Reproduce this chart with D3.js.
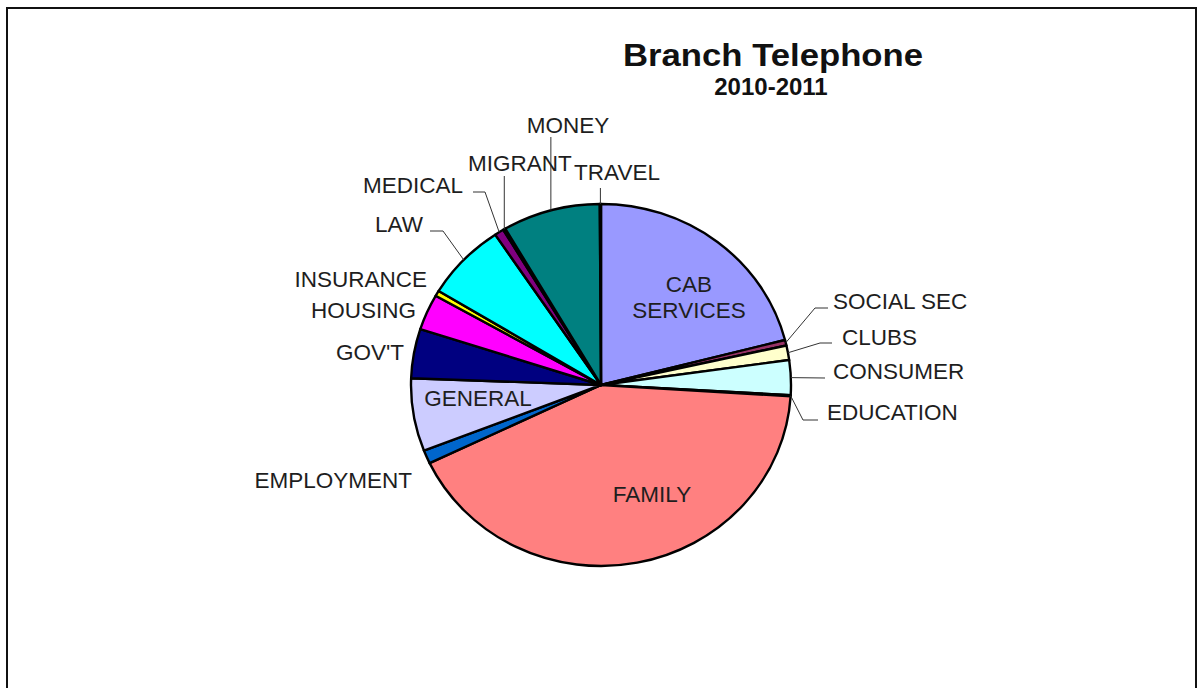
<!DOCTYPE html>
<html>
<head>
<meta charset="utf-8">
<script src="https://cdn.jsdelivr.net/npm/d3@7"></script>
<style>
  html, body { margin: 0; padding: 0; background: #fff; }
  svg { display: block; }
  text { font-family: "Liberation Sans", Arial, sans-serif; }
</style>
</head>
<body>
<svg id="chart" width="1198" height="688"></svg>
<script>
// Enquiry categories, in slice order (clockwise from 12 o'clock)
const categories = [
  "CAB SERVICES", "SOCIAL SEC", "CLUBS", "CONSUMER", "EDUCATION", "FAMILY",
  "EMPLOYMENT", "GENERAL", "GOV'T", "HOUSING", "INSURANCE", "LAW",
  "MEDICAL", "MIGRANT", "MONEY", "TRAVEL"
];
// Share of telephone enquiries (%)
const shares = [
  21.0, 0.5, 1.3, 3.1, 0.1, 41.9,
  1.2, 6.5, 4.4, 3.2, 0.5, 6.9,
  0.8, 0.2, 8.3, 0.1
];
const fills = [
  "#9999FF", "#993366", "#FFFFCC", "#CCFFFF", "#660066", "#FF8080",
  "#0066CC", "#CCCCFF", "#000080", "#FF00FF", "#FFFF00", "#00FFFF",
  "#800080", "#800000", "#008080", "#0000FF"
];
const title = "Branch Telephone";
const subtitle = "2010-2011";

// Label placement: text position (baseline), anchor, optional leader path
// (elbow points after the point on the rim)
const labelLayout = {
  "CAB SERVICES": { x: 689, y: 292, anchor: "middle", lines: ["CAB", "SERVICES"], lh: 26 },
  "SOCIAL SEC":   { x: 833, y: 309, anchor: "start", leader: [[815, 308], [828, 308]] },
  "CLUBS":        { x: 842, y: 345, anchor: "start", leader: [[820, 343], [832, 343]] },
  "CONSUMER":     { x: 833, y: 379, anchor: "start", leader: [[825, 378]] },
  "EDUCATION":    { x: 827, y: 420, anchor: "start", leader: [[803, 420], [818, 420]] },
  "FAMILY":       { x: 652, y: 502, anchor: "middle" },
  "EMPLOYMENT":   { x: 412, y: 488, anchor: "end" },
  "GENERAL":      { x: 478, y: 406, anchor: "middle" },
  "GOV'T":        { x: 404, y: 360, anchor: "end" },
  "HOUSING":      { x: 416, y: 318, anchor: "end" },
  "INSURANCE":    { x: 427, y: 287, anchor: "end" },
  "LAW":          { x: 423, y: 232, anchor: "end", leader: [[443, 231], [430, 231]] },
  "MEDICAL":      { x: 463, y: 193, anchor: "end", leader: [[485, 192], [473, 192]] },
  "MIGRANT":      { x: 468, y: 171, anchor: "start", leader: [["rim", 176]] },
  "MONEY":        { x: 568, y: 133, anchor: "middle", leader: [["rim", 137]] },
  "TRAVEL":       { x: 617, y: 180, anchor: "middle", leader: [["rim", 188]] }
};

const svg = d3.select("#chart");

// frame
svg.append("path")
  .attr("d", "M7,688 L7,8 L1196,8 L1196,688")
  .attr("fill", "none").attr("stroke", "#111").attr("stroke-width", 2);

// titles
svg.append("text")
  .attr("x", 773).attr("y", 66)
  .attr("text-anchor", "middle")
  .attr("font-size", 31).attr("font-weight", "bold").attr("fill", "#111")
  .attr("textLength", 300).attr("lengthAdjust", "spacingAndGlyphs")
  .text(title);
svg.append("text")
  .attr("x", 771).attr("y", 95)
  .attr("text-anchor", "middle")
  .attr("font-size", 24).attr("font-weight", "bold").attr("fill", "#111")
  .text(subtitle);

// pie geometry (slightly flattened ellipse)
const cx = 601, cy = 385, rx = 190, ry = 181;
const data = categories.map((c, i) => ({ name: c, value: shares[i], fill: fills[i] }));
const pie = d3.pie().value(d => d.value).sort(null).startAngle(0).endAngle(2 * Math.PI);
const arcs = pie(data);
const arc = d3.arc().innerRadius(0).outerRadius(rx);

const g = svg.append("g")
  .attr("transform", `translate(${cx},${cy}) scale(1,${ry / rx})`);
g.selectAll("path.slice")
  .data(arcs)
  .join("path")
  .attr("class", "slice")
  .attr("d", arc)
  .attr("fill", d => d.data.fill)
  .attr("stroke", "#000")
  .attr("stroke-width", 2.4)
  .attr("stroke-linejoin", "round")
  .attr("vector-effect", "non-scaling-stroke");

// point on the rim at the slice's mid-angle, in page coordinates
function rimPoint(d) {
  const a = (d.startAngle + d.endAngle) / 2;
  return [cx + rx * Math.sin(a), cy - ry * Math.cos(a)];
}

// leader lines
const lineGen = d3.line();
arcs.forEach(d => {
  const L = labelLayout[d.data.name];
  if (!L || !L.leader) return;
  const p0 = rimPoint(d);
  const pts = [p0].concat(L.leader.map(p => [p[0] === "rim" ? p0[0] : p[0], p[1]]));
  svg.append("path")
    .attr("d", lineGen(pts))
    .attr("fill", "none")
    .attr("stroke", "#333")
    .attr("stroke-width", 1);
});

// labels
arcs.forEach(d => {
  const L = labelLayout[d.data.name];
  const t = svg.append("text")
    .attr("x", L.x).attr("y", L.y)
    .attr("text-anchor", L.anchor)
    .attr("font-size", 22.5)
    .attr("fill", "#1e1e1e");
  if (L.lines) {
    L.lines.forEach((s, i) => {
      t.append("tspan").attr("x", L.x).attr("y", L.y + i * L.lh).text(s);
    });
  } else {
    t.text(d.data.name);
  }
});
</script>
</body>
</html>
